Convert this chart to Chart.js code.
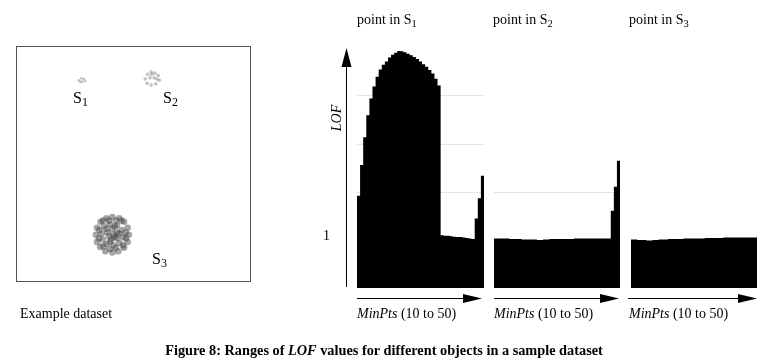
<!DOCTYPE html>
<html><head><meta charset="utf-8">
<script src="https://cdn.jsdelivr.net/npm/chart.js@4/dist/chart.umd.min.js"></script>
<style>
html,body{margin:0;padding:0;background:#fff;}
#wrap{position:relative;width:765px;height:362px;overflow:hidden;font-family:"Liberation Serif","Times New Roman",serif;color:#000;}
canvas{position:absolute;left:0;top:0;}
.t{position:absolute;font-size:14px;line-height:14px;white-space:nowrap;}
.s{position:absolute;font-size:16px;line-height:16px;white-space:nowrap;}
.t sub,.s sub{font-size:0.75em;vertical-align:-0.25em;line-height:0;}
.cap{position:absolute;left:0;width:768px;text-align:center;font-size:14.3px;line-height:14px;font-weight:bold;white-space:nowrap;}
</style></head>
<body>
<div id="wrap">
<canvas id="c0" width="765" height="362"></canvas>
<canvas id="c1" width="765" height="362"></canvas>
<canvas id="c2" width="765" height="362"></canvas>
<canvas id="c3" width="765" height="362"></canvas>

<div class="s" style="left:73px;top:90px">S<sub>1</sub></div>
<div class="s" style="left:163px;top:90px">S<sub>2</sub></div>
<div class="s" style="left:152px;top:251px">S<sub>3</sub></div>
<div class="t" style="left:20px;top:307px">Example dataset</div>

<div class="t" style="left:357px;top:13px">point in S<sub>1</sub></div>
<div class="t" style="left:493px;top:13px">point in S<sub>2</sub></div>
<div class="t" style="left:629px;top:13px">point in S<sub>3</sub></div>

<div class="t" style="left:323px;top:111px;width:28px;text-align:center;transform:rotate(-90deg);font-style:italic">LOF</div>
<div class="t" style="left:323px;top:229px">1</div>

<div class="t" style="left:357px;top:307px"><i>MinPts</i> (10 to 50)</div>
<div class="t" style="left:494px;top:307px"><i>MinPts</i> (10 to 50)</div>
<div class="t" style="left:629px;top:307px"><i>MinPts</i> (10 to 50)</div>

<div class="cap" style="top:343px">Figure 8: Ranges of <i>LOF</i> values for different objects in a sample dataset</div>
</div>

<script>
// ---- data ----
const minPts = [10,11,12,13,14,15,16,17,18,19,20,21,22,23,24,25,26,27,28,29,30,31,32,33,34,35,36,37,38,39,40,41,42,43,44,45,46,47,48,49,50];

const lofS1 = [1.92,2.56,3.14,3.60,3.95,4.20,4.40,4.55,4.65,4.72,4.80,4.86,4.90,4.94,4.93,4.91,4.88,4.85,4.81,4.77,4.72,4.66,4.61,4.54,4.47,4.36,4.22,
               1.10,1.09,1.09,1.08,1.07,1.06,1.06,1.05,1.04,1.03,1.02,1.45,1.87,2.34];
const lofS2 = [1.03,1.03,1.03,1.03,1.03,1.02,1.02,1.02,1.02,1.01,1.01,1.01,1.01,1.01,1.00,1.00,1.01,1.01,1.02,1.02,1.02,1.02,1.02,1.02,1.02,1.02,
               1.03,1.03,1.03,1.03,1.03,1.03,1.03,1.03,1.03,1.03,1.03,1.03,1.61,2.11,2.65];
const lofS3 = [1.01,1.01,1.00,1.00,1.00,0.99,0.99,1.00,1.00,1.01,1.01,1.01,1.02,1.02,1.02,1.02,1.02,1.03,1.03,1.03,1.03,1.03,1.03,1.03,1.04,1.04,
               1.04,1.04,1.04,1.04,1.05,1.05,1.05,1.05,1.05,1.05,1.05,1.05,1.05,1.05,1.05];

const gridS1 = [1,2,3,4];
const gridS2 = [1,2];
const gridS3 = [];

// example dataset points (x,y in 0..100 units)
const clusterS1 = [{x:26.7,y:85.5},{x:27.8,y:86.3},{x:29.0,y:86.0},{x:29.4,y:85.2},{x:28.2,y:84.9},{x:27.3,y:84.8}];
const clusterS2 = [{x:55.0,y:86.0},{x:56.0,y:88.0},{x:57.5,y:89.0},{x:59.0,y:88.5},{x:60.5,y:87.5},{x:61.0,y:85.5},{x:59.5,y:84.0},
                   {x:57.5,y:83.5},{x:55.8,y:84.2},{x:57.0,y:86.5},{x:58.8,y:86.5},{x:57.8,y:88.0},{x:60.0,y:86.0}];
const clusterS3 = [{x:34,y:20},{x:34.5,y:23},{x:36,y:25.5},{x:38.5,y:27},{x:41,y:27.5},{x:44,y:27},{x:46,y:25.5},{x:47.5,y:23},
                   {x:48,y:20},{x:47.5,y:17},{x:46,y:14.5},{x:43.5,y:13},{x:41,y:12.5},{x:38,y:13},{x:35.8,y:14.8},{x:34.5,y:17},
                   {x:36.5,y:20.5},{x:37.5,y:23.5},{x:40,y:24.5},{x:43,y:24},{x:45,y:22},{x:45.5,y:19},{x:44,y:16.5},{x:41.5,y:15.5},
                   {x:38.5,y:16},{x:37,y:18},{x:39,y:21},{x:41,y:22.5},{x:43,y:21},{x:43,y:18.5},{x:40.5,y:18},{x:39.5,y:19.5},
                   {x:41.5,y:20},{x:42,y:19},{x:35.5,y:22},{x:35.3,y:18.5},{x:37,y:26},{x:39.5,y:26},{x:42.5,y:26},{x:45,y:26},
                   {x:46.7,y:21},{x:46.8,y:18.5},{x:45.5,y:15.5},{x:40,y:14},{x:42.5,y:14.5},{x:37.2,y:15.2},{x:38.5,y:22.5},
                   {x:44,y:20.5},{x:42,y:23.5},{x:40,y:17}];

// ---- plugins ----
const boxPlugin = {
  id:'box',
  afterDraw(chart){
    const {ctx, chartArea:a} = chart;
    ctx.save();
    ctx.strokeStyle = '#555'; ctx.lineWidth = 1;
    ctx.strokeRect(Math.round(a.left)+0.5, Math.round(a.top)+0.5, Math.round(a.right-a.left)-1, Math.round(a.bottom-a.top)-1);
    ctx.restore();
  }
};

const arrowPlugin = {
  id:'arrows',
  afterDraw(chart, args, opts){
    const {ctx, chartArea:a} = chart;
    ctx.save();
    ctx.strokeStyle = '#000'; ctx.fillStyle = '#000'; ctx.lineWidth = 1;
    const y = Math.round(a.bottom) + 10.5;
    const x0 = a.left + (opts.dx0 || 0), x1 = a.right + (opts.dx1 || 0);
    ctx.beginPath(); ctx.moveTo(x0, y); ctx.lineTo(x1 - 15, y); ctx.stroke();
    ctx.beginPath(); ctx.moveTo(x1, y); ctx.lineTo(x1 - 19, y - 4.5); ctx.lineTo(x1 - 19, y + 4.5); ctx.closePath(); ctx.fill();
    if (opts.yArrow) {
      const x = Math.round(a.left) - 10.5;
      ctx.beginPath(); ctx.moveTo(x, a.bottom - 1); ctx.lineTo(x, a.top + 15); ctx.stroke();
      ctx.beginPath(); ctx.moveTo(x, a.top); ctx.lineTo(x - 5, a.top + 19); ctx.lineTo(x + 5, a.top + 19); ctx.closePath(); ctx.fill();
    }
    ctx.restore();
  }
};

// ---- example dataset ----
new Chart(document.getElementById('c0'), {
  type:'scatter',
  data:{datasets:[
    {data:clusterS1, backgroundColor:'rgba(150,150,150,0.6)', borderWidth:0, pointRadius:1.3},
    {data:clusterS2, backgroundColor:'rgba(140,140,140,0.55)', borderWidth:0, pointRadius:1.8},
    {data:clusterS3, backgroundColor:'rgba(55,55,55,0.45)', borderWidth:0, pointRadius:3.3}
  ]},
  options:{
    responsive:false, animation:false, events:[],
    layout:{padding:{left:16, top:46, right:514, bottom:80}},
    plugins:{legend:{display:false}, tooltip:{enabled:false}},
    scales:{x:{display:false,min:0,max:100}, y:{display:false,min:0,max:100}}
  },
  plugins:[boxPlugin]
});

// ---- LOF panels (stepped filled area, one step per MinPts value) ----
function stepSeries(values){
  const pts = values.map((v, i) => ({x: minPts[i] - 0.5, y: v}));
  pts.push({x: minPts[minPts.length - 1] + 0.5, y: values[values.length - 1]});
  return pts;
}
function lofPanel(id, values, grid, padL, padR, arrowOpts){
  new Chart(document.getElementById(id), {
    type:'line',
    data:{datasets:[{data:stepSeries(values), stepped:'before', fill:'origin',
                     backgroundColor:'#000', borderColor:'#000', borderWidth:0, pointRadius:0}]},
    options:{
      responsive:false, animation:false, events:[],
      layout:{padding:{left:padL, right:padR, top:48, bottom:74}},
      plugins:{legend:{display:false}, tooltip:{enabled:false}, arrows:arrowOpts},
      scales:{
        x:{type:'linear', display:false, min:minPts[0] - 0.5, max:minPts[minPts.length - 1] + 0.5},
        y:{min:0, max:5, z:1, border:{display:false},
           ticks:{display:false, stepSize:1},
           grid:{drawTicks:false, lineWidth:1,
                 color:c => grid.includes(c.tick.value) ? 'rgba(180,180,180,0.36)' : 'rgba(0,0,0,0)'},
           afterFit(s){ s.width = 0; }}
      }
    },
    plugins:[arrowPlugin]
  });
}
lofPanel('c1', lofS1, gridS1, 357, 281, {yArrow:true, dx0:0, dx1:-2});
lofPanel('c2', lofS2, gridS2, 494, 145, {dx0:0, dx1:-1});
lofPanel('c3', lofS3, gridS3, 631, 8, {dx0:-3, dx1:0});
</script>
</body></html>
